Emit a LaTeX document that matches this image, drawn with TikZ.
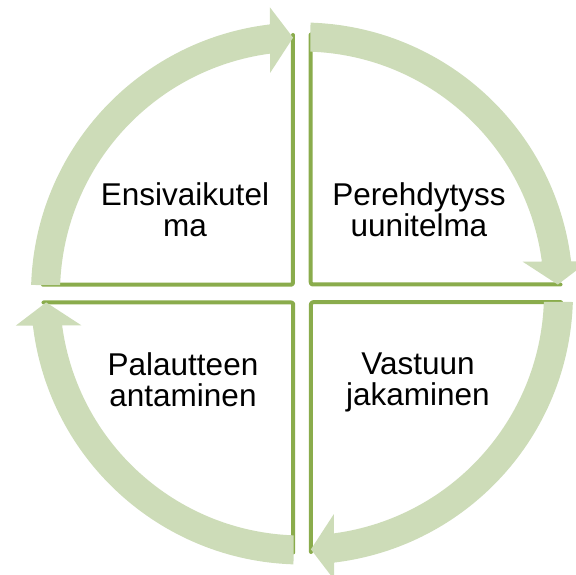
\documentclass[tikz,border=0pt]{standalone}
\usepackage{fontspec}
\setmainfont{Liberation Sans}
\definecolor{ringgreen}{RGB}{205,220,184}
\definecolor{linegreen}{RGB}{138,172,76}
\tikzset{
	quad/.style={fill=white,draw=none},
	quadline/.style={draw=linegreen,line width=4pt,line cap=round,line join=round,rounded corners=2pt},
	ringarrow/.style={fill=ringgreen,draw=none},
	txt/.style={align=center,inner sep=0pt,text depth=0pt,font=\fontsize{31.5}{30.7}\selectfont}
}
\begin{document}
\begin{tikzpicture}[x=1pt,y=1pt]
		\useasboundingbox (-302,-281.5) rectangle (274,293.5);
		% four quarters, rotated clockwise
		\foreach \r in {0,90,180,270}
		{
		\begin{scope}[rotate=-\r]
		\fill[quad] (-260,8.75) -- (-9,8.75) -- (-9,259.75) arc[start angle=90,end angle=180,radius=251pt] -- cycle;
		\draw[quadline] (-259,8.75) -- (-9,8.75) -- (-9,258.5);
		\end{scope}
		}
		% circular arrows
		\foreach \r in {0,90,180,270}
		{
		\begin{scope}[rotate=-\r]
		\fill[ringarrow] (178.2:271pt) arc[start angle=178.2,end angle=96.8,radius=271pt]
			-- (96.4:288pt) -- (92:256pt) -- (98.2:223pt) -- (97.6:242pt)
			arc[start angle=97.6,end angle=178,radius=242pt] -- cycle;
		\end{scope}
		}
		\node[txt] (ensi) at (-117,84) {Ensivaikutel\\ma};
		\node[txt] (pere) at (117,84) {Perehdytyss\\uunitelma};
		\node[txt] (vast) at (116,-86) {Vastuun\\jakaminen};
		\node[txt] (pala) at (-119,-86) {Palautteen\\antaminen};
	\end{tikzpicture}
\end{document}
